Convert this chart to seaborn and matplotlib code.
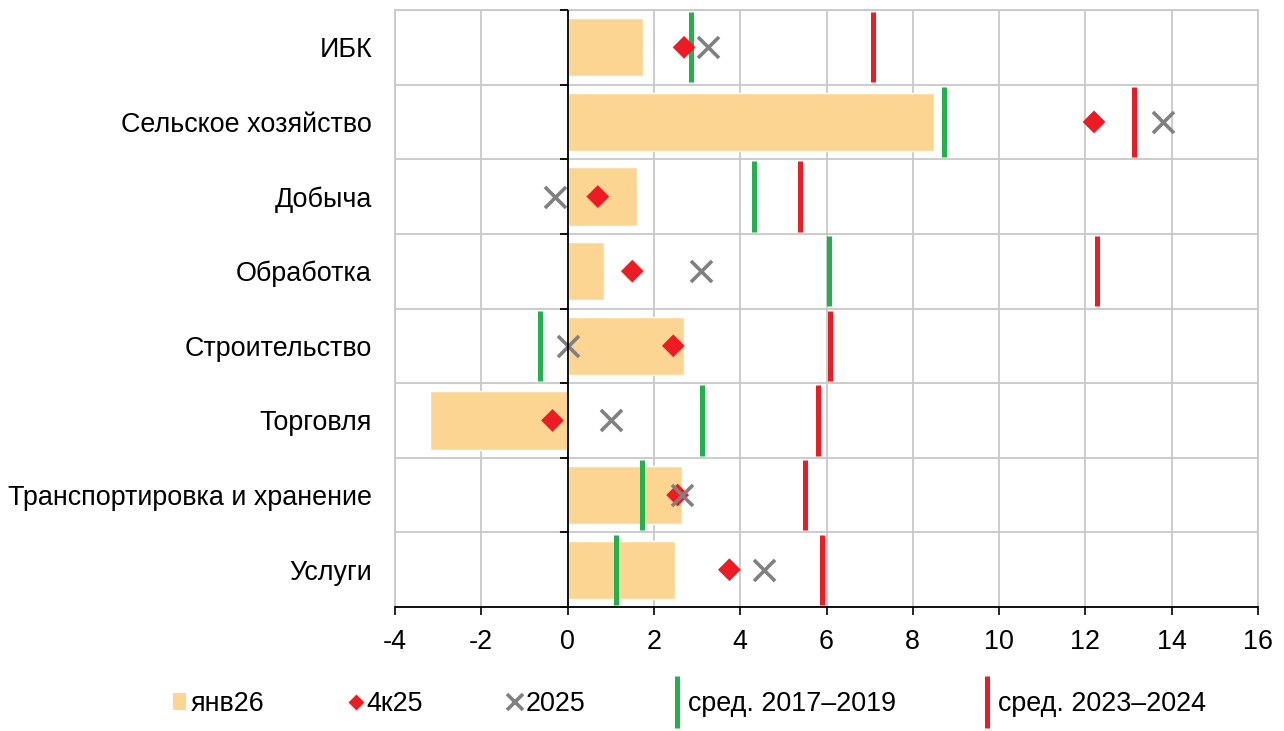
import matplotlib
matplotlib.use("Agg")
import matplotlib.pyplot as plt
import seaborn as sns
import pandas as pd
import numpy as np
from matplotlib.patches import Patch
from matplotlib.lines import Line2D

categories = ["ИБК", "Сельское хозяйство", "Добыча", "Обработка", "Строительство",
              "Торговля", "Транспортировка и хранение", "Услуги"]
jan26 = [1.75, 8.5, 1.6, 0.85, 2.7, -3.2, 2.65, 2.5]
q4_25 = [2.7, 12.2, 0.7, 1.5, 2.45, -0.35, 2.55, 3.75]
y2025 = [3.25, 13.8, -0.3, 3.1, 0.0, 1.0, 2.65, 4.55]
avg_2017_2019 = [2.85, 8.72, 4.33, 6.06, -0.65, 3.12, 1.72, 1.13]
avg_2023_2024 = [7.08, 13.12, 5.39, 12.28, 6.08, 5.8, 5.5, 5.9]
x_ticks = [-4, -2, 0, 2, 4, 6, 8, 10, 12, 14, 16]
legend_labels = ["янв26", "4к25", "2025", "сред. 2017–2019", "сред. 2023–2024"]

BAR = "#FDD593"
RED = "#ED1C24"
GRAY = "#808080"
GREEN = "#22B14C"
GRID = "#C8C8C8"
FS = 19.4

sns.set_theme(style="white")
plt.rcParams["font.family"] = ["Liberation Sans", "DejaVu Sans"]
plt.rcParams["text.color"] = "black"
plt.rcParams["xtick.color"] = "black"
plt.rcParams["ytick.color"] = "black"

df = pd.DataFrame({"cat": categories, "jan26": jan26, "q4": q4_25, "y2025": y2025,
                   "a1": avg_2017_2019, "a2": avg_2023_2024})

fig = plt.figure(figsize=(12.84, 7.31), dpi=100)
ax = fig.add_axes([395/1284, 1-607/731, (1258-395)/1284, (607-10)/731])

sns.barplot(data=df, y="cat", x="jan26", orient="h", color=BAR, width=0.78,
            saturation=1, ax=ax, zorder=2)
pos = np.arange(len(categories))
ax.vlines(df["a1"], pos - 0.47, pos + 0.47, color=GREEN, linewidth=3.6, zorder=3)
ax.vlines(df["a2"], pos - 0.47, pos + 0.47, color=RED, linewidth=3.6, zorder=3)
sns.scatterplot(data=df, y="cat", x="q4", marker="D", s=135, color=RED,
                edgecolor="none", ax=ax, zorder=4)
sns.scatterplot(data=df, y="cat", x="y2025", marker="x", s=230, color=GRAY,
                linewidth=2.6, ax=ax, zorder=4)

ax.set_xlim(-4, 16)
ax.set_ylim(len(categories) - 0.5, -0.5)
ax.set_xticks(x_ticks)
ax.set_xticklabels([str(t) for t in x_ticks], fontsize=FS, color="black")
ax.set_yticks(pos)
ax.set_yticklabels(categories, fontsize=FS, color="black")
ax.set_yticks(np.arange(-0.5, len(categories)), minor=True)
ax.tick_params(axis="y", which="both", length=0, pad=16.5)
ax.tick_params(axis="x", which="major", length=6, width=1.2, color="black",
               direction="out", pad=10, bottom=True)
ax.set_xlabel("")
ax.set_ylabel("")

ax.grid(axis="x", which="major", color=GRID, linewidth=1.3, zorder=0)
ax.grid(axis="y", which="minor", color=GRID, linewidth=1.3, zorder=0)
ax.grid(axis="y", which="major", visible=False)
ax.set_axisbelow(True)

for s in ["top", "right", "left"]:
    ax.spines[s].set_color(GRID)
    ax.spines[s].set_linewidth(1.3)
ax.spines["bottom"].set_color("black")
ax.spines["bottom"].set_linewidth(1.3)

# axis at zero with tick marks at category boundaries
ax.axvline(0, color="black", linewidth=1.3, zorder=5)
ax.plot([0] * (len(categories) + 1), np.arange(-0.5, len(categories)),
        linestyle="none", marker=0, markersize=6, markeredgewidth=1.3,
        color="black", zorder=5, clip_on=False)

handles = [
    Patch(facecolor=BAR, edgecolor="none"),
    Line2D([], [], linestyle="none", marker="D", markersize=8, color=RED,
           markeredgecolor="none"),
    Line2D([], [], linestyle="none", marker="x", markersize=11, color=GRAY,
           markeredgewidth=2.6),
    Line2D([], [], linestyle="none", marker="|", markersize=38, color=GREEN,
           markeredgewidth=3.6),
    Line2D([], [], linestyle="none", marker="|", markersize=38, color=RED,
           markeredgewidth=3.6),
]
leg = fig.legend(handles, legend_labels, loc="center left",
                 bbox_to_anchor=(173/1284, 1-704/731), ncol=5, frameon=False,
                 fontsize=FS, handlelength=0.5, handletextpad=0.15,
                 columnspacing=3.15, handleheight=0.55, borderpad=0,
                 borderaxespad=0)

fig.savefig("out.png", dpi=100)
